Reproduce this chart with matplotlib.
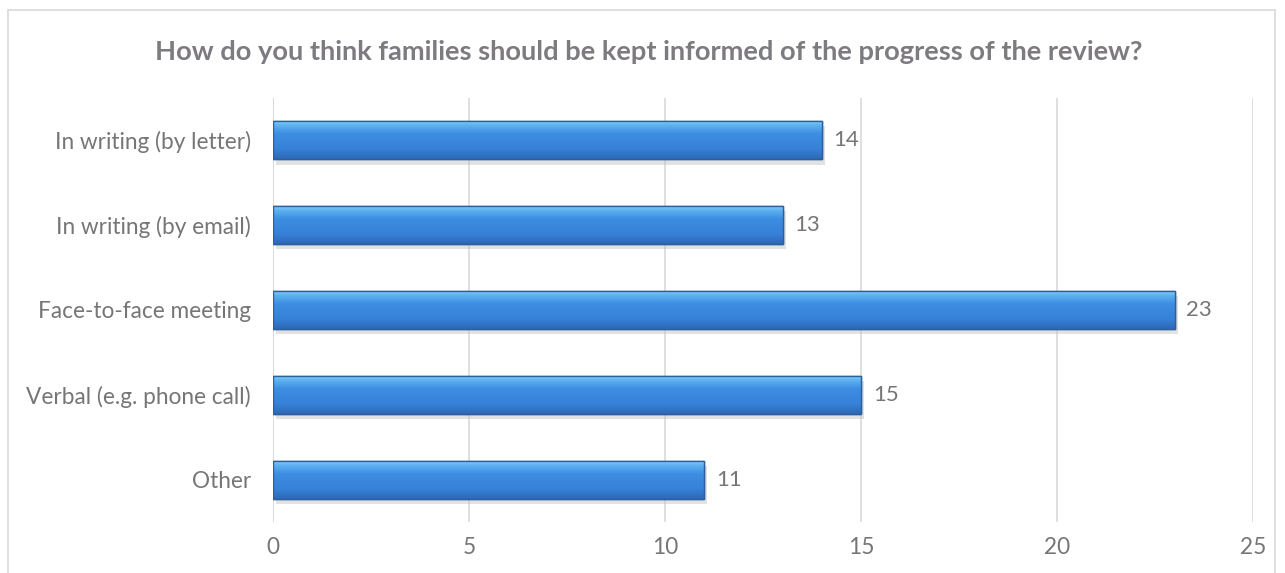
import matplotlib
matplotlib.use("Agg")
import matplotlib.pyplot as plt
import numpy as np
from matplotlib.colors import LinearSegmentedColormap
from matplotlib.patches import Rectangle

plt.rcParams["font.family"] = ["Lato", "DejaVu Sans"]

categories = ["In writing (by letter)", "In writing (by email)", "Face-to-face meeting",
              "Verbal (e.g. phone call)", "Other"]
values = [14, 13, 23, 15, 11]
xticks = [0, 5, 10, 15, 20, 25]

title = "How do you think families should be kept informed of the progress of the review?"

fig = plt.figure(figsize=(12.85, 5.73), dpi=100)
fig.patch.set_facecolor("white")

# outer chart border (bottom edge is cut off in the original)
fig.patches.append(Rectangle((0.0062, -0.05), 0.986, 1.0325, transform=fig.transFigure,
                             fill=False, edgecolor="#d9d9d9", linewidth=1.2))

ax = fig.add_axes([0.2125, 0.089, 0.7626, 0.74])

y = np.arange(len(categories))
bar_h = 0.45

# soft shadow under each bar
ax.barh(y + 0.06, values, height=bar_h, left=0.08, color="#bfbfbf", alpha=0.45, zorder=2)
bars = ax.barh(y, values, height=bar_h, color="#3a87dd", edgecolor="#2b5f9e",
               linewidth=1.0, zorder=3)

cmap = LinearSegmentedColormap.from_list(
    "bevel", [(0.0, "#8fd8fb"), (0.12, "#5fb2f0"), (0.35, "#3d8ee3"),
              (0.75, "#3781d8"), (1.0, "#2e69b6")])
grad = np.linspace(0, 1, 64).reshape(-1, 1)
for b in bars:
    x0, y0, w, h = b.get_x(), b.get_y(), b.get_width(), b.get_height()
    im = ax.imshow(grad, cmap=cmap, aspect="auto", extent=(x0, x0 + w, y0 + h, y0),
                   origin="upper", zorder=3.5, interpolation="bicubic")
    im.set_clip_path(b)
    ax.add_patch(Rectangle((x0, y0), w, h, fill=False, edgecolor="#2b5f9e",
                           linewidth=1.0, zorder=4))

for yi, v in zip(y, values):
    ax.text(v + 0.3, yi, str(v), va="center", ha="left", fontsize=16, color="#767676")

ax.set_xlim(0, 25)
ax.set_ylim(len(categories) - 0.5, -0.5)
ax.set_xticks(xticks)
ax.set_yticks(y)
ax.set_yticklabels(categories)
ax.tick_params(axis="both", length=0, labelsize=16.3, labelcolor="#767676")
ax.tick_params(axis="x", pad=11)
ax.tick_params(axis="y", pad=16)
ax.grid(axis="x", color="#d9d9d9", linewidth=1.2, zorder=0)
ax.set_axisbelow(True)
for s in ax.spines.values():
    s.set_visible(False)
ax.axvline(0, color="#d9d9d9", linewidth=1.2, zorder=1)

fig.text(0.505, 0.909, title, ha="center", va="center", fontsize=19.6,
         fontweight="bold", color="#7d7a80")

fig.savefig("out.png", dpi=100, facecolor="white")
